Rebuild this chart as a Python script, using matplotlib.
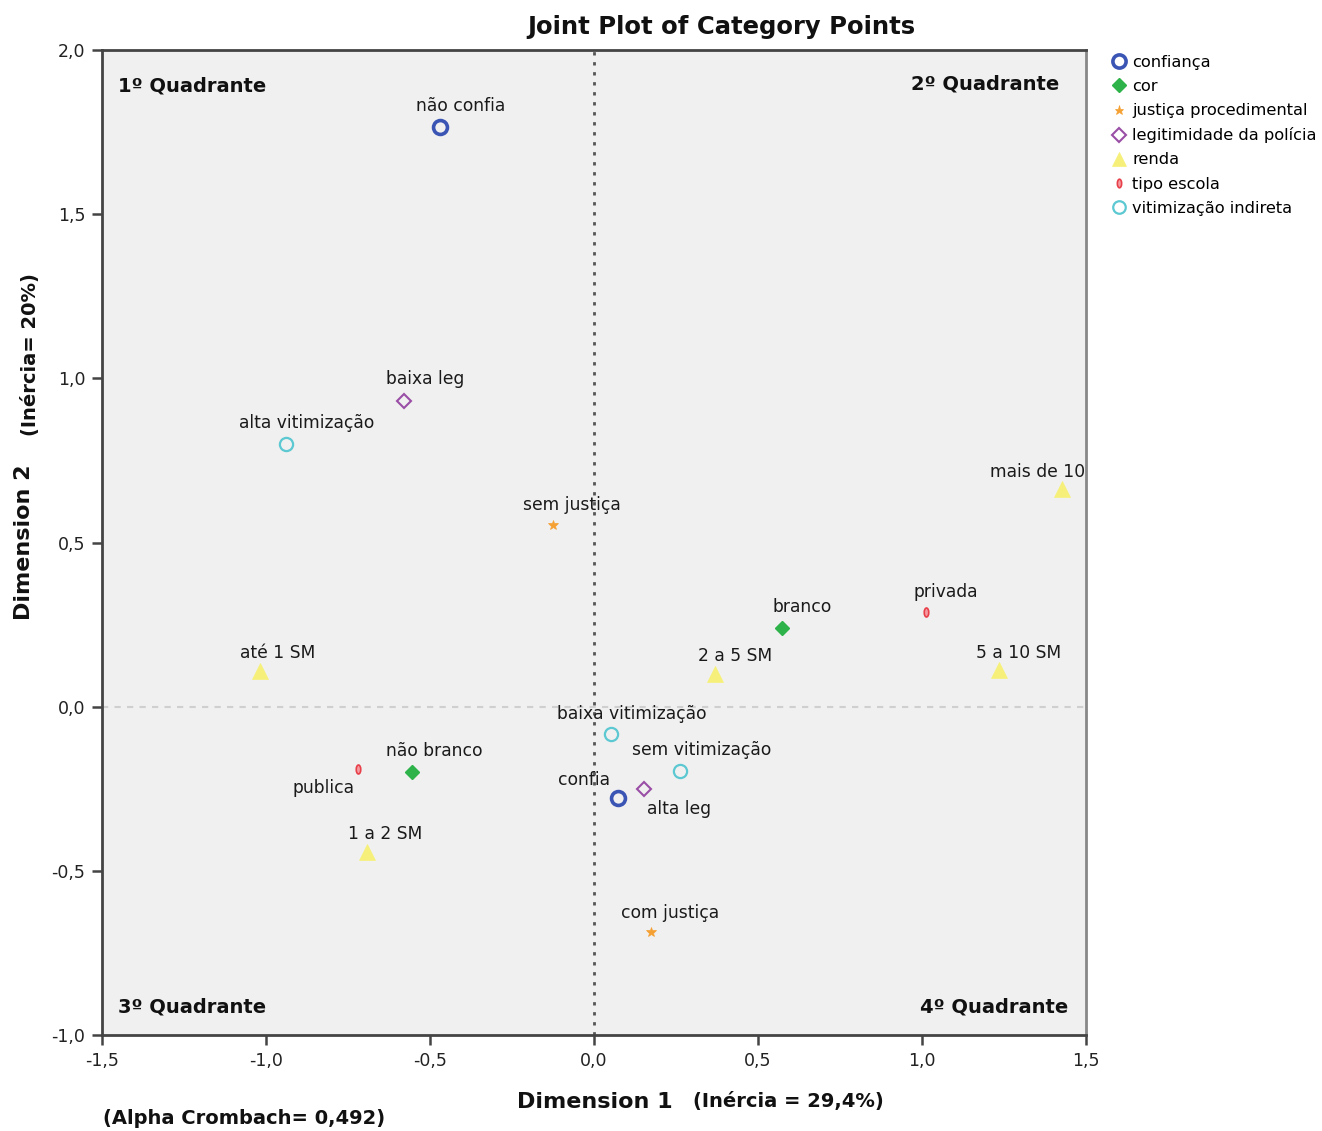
import matplotlib
matplotlib.use("Agg")
import matplotlib.pyplot as plt
from matplotlib.path import Path
from matplotlib.transforms import Affine2D
from matplotlib.ticker import FuncFormatter, MultipleLocator

plt.rcParams['font.family'] = ['DejaVu Sans']

# Category coordinates (Dimension 1, Dimension 2) per variable
confianca_labels = ['não confia', 'confia']
confianca_x = [-0.470, 0.073]
confianca_y = [1.764, -0.277]

cor_labels = ['branco', 'não branco']
cor_x = [0.573, -0.555]
cor_y = [0.241, -0.198]

justica_labels = ['sem justiça', 'com justiça']
justica_x = [-0.125, 0.174]
justica_y = [0.554, -0.685]

legitimidade_labels = ['baixa leg', 'alta leg']
legitimidade_x = [-0.579, 0.152]
legitimidade_y = [0.932, -0.250]

renda_labels = ['até 1 SM', '1 a 2 SM', '2 a 5 SM', '5 a 10 SM', 'mais de 10']
renda_x = [-1.018, -0.692, 0.369, 1.235, 1.427]
renda_y = [0.110, -0.442, 0.100, 0.113, 0.664]

escola_labels = ['publica', 'privada']
escola_x = [-0.720, 1.012]
escola_y = [-0.189, 0.289]

vitim_labels = ['alta vitimização', 'baixa vitimização', 'sem vitimização']
vitim_x = [-0.939, 0.052, 0.262]
vitim_y = [0.801, -0.082, -0.195]

legend_names = ['confiança', 'cor', 'justiça procedimental', 'legitimidade da polícia',
                'renda', 'tipo escola', 'vitimização indireta']

# Label offsets in pixels (dx, dy) relative to each point
label_offsets = {
    'não confia': (21, 21), 'confia': (-34, 18),
    'branco': (20, 21), 'não branco': (22, 21),
    'sem justiça': (19, 20), 'com justiça': (19, 19),
    'baixa leg': (21, 22), 'alta leg': (35, -20),
    'até 1 SM': (18, 18), '1 a 2 SM': (18, 18), '2 a 5 SM': (20, 18),
    '5 a 10 SM': (19, 17), 'mais de 10': (-24, 17),
    'publica': (-34, -19), 'privada': (20, 20),
    'alta vitimização': (21, 21), 'baixa vitimização': (21, 20),
    'sem vitimização': (22, 21),
}

# Narrow ellipse marker for "tipo escola"
ellipse = Path.unit_circle().transformed(Affine2D().scale(0.5, 1.0))

styles = [
    dict(marker='o', ms=10, mfc='none', mec='#3b55b4', mew=2.6),
    dict(marker='D', ms=7.5, mfc='#2db34a', mec='#2db34a', mew=1),
    dict(marker='*', ms=7, mfc='#f5a032', mec='#f5a032', mew=0.5),
    dict(marker='D', ms=7.5, mfc='none', mec='#9a4ea6', mew=1.5),
    dict(marker='^', ms=11, mfc='#f6f07a', mec='#f6f07a', mew=0.5),
    dict(marker=ellipse, ms=6.5, mfc='#f59aa0', mec='#e8404a', mew=1.2),
    dict(marker='o', ms=9.5, mfc='none', mec='#5cc8d2', mew=1.6),
]

groups = [
    (confianca_labels, confianca_x, confianca_y),
    (cor_labels, cor_x, cor_y),
    (justica_labels, justica_x, justica_y),
    (legitimidade_labels, legitimidade_x, legitimidade_y),
    (renda_labels, renda_x, renda_y),
    (escola_labels, escola_x, escola_y),
    (vitim_labels, vitim_x, vitim_y),
]

fig = plt.figure(figsize=(13.22, 11.31), dpi=100)
ax = fig.add_axes([102 / 1322, 96 / 1131, 984 / 1322, 985 / 1131])
ax.set_facecolor('#f0f0f0')
ax.set_xlim(-1.5, 1.5)
ax.set_ylim(-1.0, 2.0)

# Reference lines through the origin
ax.axvline(0, color='#555555', lw=2, ls=(0, (1.2, 2.4)), zorder=1)
ax.axhline(0, color='#cfcfcf', lw=1.5, ls=(0, (3, 3)), zorder=1)

for (labels, xs, ys), name, st in zip(groups, legend_names, styles):
    ax.plot(xs, ys, ls='none', label=name, zorder=3, **st)
    for lab, x, y in zip(labels, xs, ys):
        dx, dy = label_offsets[lab]
        ax.annotate(lab, (x, y), xytext=(dx, dy), textcoords='offset pixels',
                    ha='center', va='center', fontsize=12.3, color='#1a1a1a', zorder=4)

ax.xaxis.set_major_locator(MultipleLocator(0.5))
ax.yaxis.set_major_locator(MultipleLocator(0.5))
fmt = FuncFormatter(lambda v, p: f"{v:.1f}".replace('.', ',').replace('-0,0', '0,0'))
ax.xaxis.set_major_formatter(fmt)
ax.yaxis.set_major_formatter(fmt)
ax.tick_params(direction='out', length=7, width=1.8, color='#444444',
               labelsize=12.5, labelcolor='#222222', pad=5)

for side in ['left', 'bottom', 'top']:
    ax.spines[side].set_color('#444444')
    ax.spines[side].set_linewidth(2)
ax.spines['right'].set_color('#888888')
ax.spines['right'].set_linewidth(2)

# Quadrant captions
qkw = dict(transform=ax.transAxes, fontsize=14, fontweight='bold', color='#111111', va='center')
ax.text(0.0163, 0.9635, '1º Quadrante', ha='left', **qkw)
ax.text(0.9726, 0.9655, '2º Quadrante', ha='right', **qkw)
ax.text(0.0163, 0.0284, '3º Quadrante', ha='left', **qkw)
ax.text(0.9817, 0.0284, '4º Quadrante', ha='right', **qkw)

fig.text(721 / 1322, 1 - 27 / 1131, 'Joint Plot of Category Points', ha='center', va='center',
         fontsize=17.5, fontweight='bold', color='#111111')

fig.text(517 / 1322, 1 - 1102 / 1131, 'Dimension 1', ha='left', va='center',
         fontsize=16, fontweight='bold', color='#111111')
fig.text(693 / 1322, 1 - 1101 / 1131, '(Inércia = 29,4%)', ha='left', va='center',
         fontsize=14, fontweight='bold', color='#111111')
fig.text(24 / 1322, 1 - 542 / 1131, 'Dimension 2', ha='center', va='center', rotation=90,
         fontsize=16, fontweight='bold', color='#111111')
fig.text(31 / 1322, 1 - 355 / 1131, '(Inércia= 20%)', ha='center', va='center', rotation=90,
         fontsize=14, fontweight='bold', color='#111111')
fig.text(103 / 1322, 1 - 1118 / 1131, '(Alpha Crombach= 0,492)', ha='left', va='center',
         fontsize=14, fontweight='bold', color='#111111')

ax.legend(loc='upper left', bbox_to_anchor=(1112 / 1322, 1 - 55 / 1131),
          bbox_transform=fig.transFigure, frameon=False, fontsize=11.7,
          handlelength=0.8, handletextpad=0.45, labelspacing=0.56, borderaxespad=0,
          borderpad=0, markerscale=0.95)

fig.savefig('out.png', dpi=100, facecolor='white')
